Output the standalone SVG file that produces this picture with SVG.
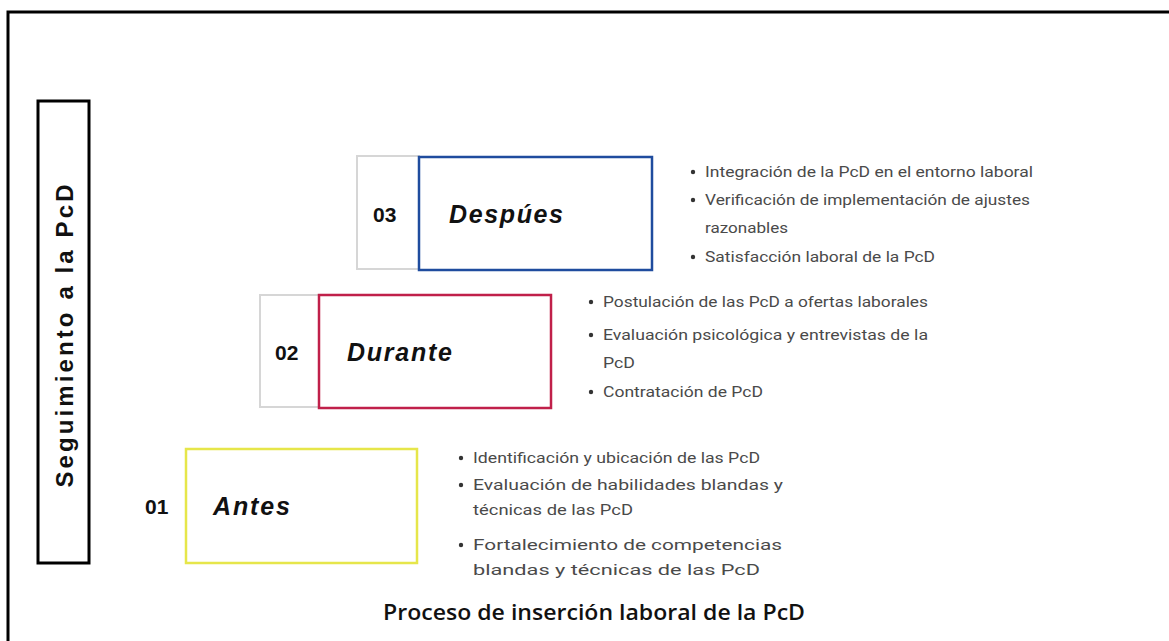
<svg xmlns="http://www.w3.org/2000/svg" width="1169" height="641" viewBox="0 0 1169 641">
<style>
.frame{fill:none;stroke:#000;stroke-width:3}
.grey{fill:#fff;stroke:#d6d6d6;stroke-width:2}
.num{font-family:"Liberation Sans",Arial,sans-serif;font-weight:bold;font-size:21px;fill:#111}
.stage{font-family:"Liberation Sans",Arial,sans-serif;font-weight:bold;font-style:italic;font-size:25px;fill:#111}
.item{font-family:Roboto,"Liberation Sans",sans-serif;font-size:14.5px;fill:#4a4a4a}
.dot{fill:#333}
.title{font-family:"Open Sans","Liberation Sans",sans-serif;font-weight:600;font-size:22px;fill:#111}
.side{font-family:"Liberation Sans",Arial,sans-serif;font-weight:bold;font-size:24px;fill:#111}
</style>
<rect width="1169" height="641" fill="#fff"/>
<path d="M8 645 V12 H1175" fill="none" stroke="#000" stroke-width="3"/>
<g id="seguimiento">
<rect x="38" y="101" width="51" height="462" class="frame" stroke-width="2.5"/>
<text class="side" transform="translate(73,336) rotate(-90)" text-anchor="middle" textLength="303" lengthAdjust="spacing">Seguimiento a la PcD</text>
</g>
<g id="despues">
<rect x="357" y="156" width="62" height="113" class="grey"/>
<rect x="419" y="157" width="233" height="113" fill="none" stroke="#1f4c9e" stroke-width="2.5"/>
<text class="num" x="373" y="222">03</text>
<text class="stage" x="449" y="223" textLength="114" lengthAdjust="spacing">Despúes</text>
</g>
<g id="durante">
<rect x="260" y="295" width="59" height="112" class="grey"/>
<rect x="319" y="295" width="232" height="113" fill="none" stroke="#c0204a" stroke-width="2.5"/>
<text class="num" x="275" y="360">02</text>
<text class="stage" x="347" y="361" textLength="105" lengthAdjust="spacing">Durante</text>
</g>
<g id="antes">
<rect x="186" y="449" width="231" height="114" fill="none" stroke="#e6e64a" stroke-width="2.5"/>
<text class="num" x="145" y="514">01</text>
<text class="stage" x="213" y="515" textLength="77" lengthAdjust="spacing">Antes</text>
</g>
<g id="despues-list">
<circle class="dot" cx="693" cy="172" r="2.2"/>
<text class="item" x="705" y="177" textLength="328" lengthAdjust="spacingAndGlyphs">Integración de la PcD en el entorno laboral</text>
<circle class="dot" cx="693" cy="200" r="2.2"/>
<text class="item" x="705" y="205" textLength="325" lengthAdjust="spacingAndGlyphs">Verificación de implementación de ajustes</text>
<text class="item" x="705" y="233" textLength="83" lengthAdjust="spacingAndGlyphs">razonables</text>
<circle class="dot" cx="693" cy="257" r="2.2"/>
<text class="item" x="705" y="262" textLength="230" lengthAdjust="spacingAndGlyphs">Satisfacción laboral de la PcD</text>
</g>
<g id="durante-list">
<circle class="dot" cx="591" cy="302" r="2.2"/>
<text class="item" x="603" y="307" textLength="325" lengthAdjust="spacingAndGlyphs">Postulación de las PcD a ofertas laborales</text>
<circle class="dot" cx="591" cy="335" r="2.2"/>
<text class="item" x="603" y="340" textLength="325" lengthAdjust="spacingAndGlyphs">Evaluación psicológica y entrevistas de la</text>
<text class="item" x="603" y="368" textLength="32" lengthAdjust="spacingAndGlyphs">PcD</text>
<circle class="dot" cx="591" cy="392" r="2.2"/>
<text class="item" x="603" y="397" textLength="160" lengthAdjust="spacingAndGlyphs">Contratación de PcD</text>
</g>
<g id="antes-list">
<circle class="dot" cx="461" cy="458" r="2.2"/>
<text class="item" x="473" y="463" textLength="287" lengthAdjust="spacingAndGlyphs">Identificación y ubicación de las PcD</text>
<circle class="dot" cx="461" cy="485" r="2.2"/>
<text class="item" x="473" y="490" textLength="310" lengthAdjust="spacingAndGlyphs">Evaluación de habilidades blandas y</text>
<text class="item" x="473" y="515" textLength="160" lengthAdjust="spacingAndGlyphs">técnicas de las PcD</text>
<circle class="dot" cx="461" cy="545" r="2.2"/>
<text class="item" x="473" y="550" textLength="309" lengthAdjust="spacingAndGlyphs">Fortalecimiento de competencias</text>
<text class="item" x="473" y="575" textLength="287" lengthAdjust="spacingAndGlyphs">blandas y técnicas de las PcD</text>
</g>
<g id="titulo">
<text class="title" x="594" y="620" text-anchor="middle" textLength="422" lengthAdjust="spacingAndGlyphs">Proceso de inserción laboral de la PcD</text>
</g>
</svg>
